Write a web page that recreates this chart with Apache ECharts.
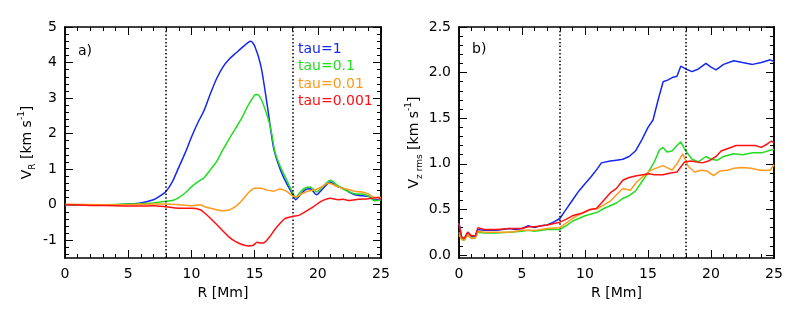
<!DOCTYPE html>
<html><head><meta charset="utf-8">
<script src="https://cdn.jsdelivr.net/npm/echarts@6/dist/echarts.min.js"></script>
<style>html,body{margin:0;padding:0;background:#fff}#c{width:786px;height:314px}</style>
</head><body><div id="c"></div>
<script>
// ---------- data ----------
const seriesNames = ['tau=1', 'tau=0.1', 'tau=0.01', 'tau=0.001'];
const seriesColors = ['#1428f0', '#22dd22', '#ff9a1a', '#ff1010'];
const panelLabels = ['a)', 'b)'];
const dividers = [8, 18];
const xTicks = [0, 5, 10, 15, 20, 25];
const yTicksA = [-1, 0, 1, 2, 3, 4, 5];
const yTicksB = [0, 0.5, 1.0, 1.5, 2.0, 2.5];

// panel a: V_R [km/s] vs R [Mm]
const vrTau1 = [[0,0],[2,-0.01],[4,0],[5,0.02],[6,0.05],[7,0.14],[7.5,0.24],[8,0.38],[8.5,0.65],[9,1.05],[9.5,1.45],[10,1.9],[10.5,2.3],[11,2.65],[11.5,3.12],[12,3.55],[12.5,3.88],[13,4.1],[13.5,4.26],[14,4.42],[14.5,4.57],[14.7,4.6],[15,4.47],[15.5,3.9],[16,2.8],[16.5,1.6],[17,1.02],[17.5,0.62],[18,0.3],[18.25,0.14],[18.6,0.27],[19,0.42],[19.4,0.45],[19.9,0.28],[20.4,0.45],[21,0.64],[21.5,0.52],[22,0.46],[22.5,0.35],[23,0.27],[23.5,0.25],[24,0.24],[24.5,0.13],[25,0.16]];
const vrTau01 = [[0,0],[3,0],[5,0.02],[6,0.03],[7,0.05],[8,0.1],[8.5,0.12],[9,0.2],[9.5,0.33],[10,0.5],[10.5,0.64],[11,0.76],[11.5,0.98],[12,1.22],[12.5,1.55],[13,1.86],[13.5,2.15],[14,2.45],[14.5,2.8],[15,3.08],[15.2,3.1],[15.5,2.98],[16,2.5],[16.3,2.1],[16.6,1.5],[17,1.1],[17.5,0.72],[18,0.35],[18.25,0.2],[18.6,0.35],[19,0.47],[19.4,0.5],[19.9,0.36],[20.4,0.52],[21,0.69],[21.5,0.56],[22,0.44],[22.5,0.36],[23,0.3],[23.5,0.3],[24,0.24],[24.5,0.11],[25,0.13]];
const vrTau001 = [[0,0.01],[3,0],[5,0],[7,0.02],[8,0.02],[9,0],[10,-0.03],[10.7,0],[11,-0.05],[11.5,-0.1],[12,-0.14],[12.5,-0.17],[13,-0.15],[13.5,-0.05],[14,0.12],[14.5,0.33],[15,0.46],[15.5,0.46],[16,0.41],[16.5,0.38],[17,0.44],[17.5,0.38],[18,0.25],[18.3,0.22],[18.7,0.3],[19.2,0.38],[19.8,0.42],[20.3,0.5],[20.8,0.6],[21.2,0.57],[21.6,0.5],[22,0.46],[22.5,0.42],[23,0.37],[23.5,0.36],[24,0.3],[24.5,0.2],[25,0.2]];
const vrTau0001 = [[0,0],[2,-0.02],[4,-0.03],[6,-0.04],[7,-0.03],[8,-0.06],[9,-0.1],[10,-0.1],[10.7,-0.14],[11,-0.22],[11.5,-0.38],[12,-0.56],[12.5,-0.74],[13,-0.92],[13.5,-1.04],[14,-1.12],[14.5,-1.16],[14.9,-1.14],[15.2,-1.06],[15.5,-1.08],[15.8,-1.06],[16.2,-0.9],[16.6,-0.7],[17,-0.53],[17.4,-0.39],[18,-0.33],[18.5,-0.3],[19,-0.2],[19.6,-0.07],[20.3,0.1],[21,0.18],[21.6,0.14],[22,0.15],[22.5,0.12],[23.2,0.15],[24,0.17],[24.8,0.2],[25,0.15]];

// panel b: Vz rms [km/s] vs R [Mm]
const vzTau1 = [[0,0.35],[0.2,0.2],[0.4,0.17],[0.7,0.25],[1,0.2],[1.3,0.21],[1.5,0.28],[2,0.27],[3,0.27],[4,0.29],[4.5,0.28],[5,0.29],[5.5,0.32],[6,0.3],[6.5,0.32],[7,0.33],[7.5,0.36],[8,0.4],[8.5,0.5],[9,0.6],[9.5,0.7],[10,0.78],[10.5,0.86],[11,0.95],[11.3,1.01],[12,1.03],[12.5,1.04],[13,1.05],[13.5,1.08],[14,1.14],[14.5,1.26],[15,1.4],[15.4,1.48],[15.8,1.7],[16.2,1.9],[16.6,1.92],[17,1.95],[17.3,1.96],[17.6,2.07],[18,2.04],[18.5,2.01],[19,2.04],[19.6,2.1],[20,2.06],[20.4,2.03],[21,2.09],[21.8,2.13],[22.5,2.11],[23.3,2.09],[24,2.11],[24.7,2.14],[25,2.12]];
const vzTau01 = [[0,0.25],[0.2,0.18],[0.4,0.16],[0.7,0.22],[1,0.18],[1.3,0.19],[1.5,0.25],[2,0.24],[3,0.24],[4,0.25],[5,0.26],[5.5,0.27],[6,0.26],[7,0.28],[8,0.28],[8.5,0.32],[9,0.37],[9.5,0.4],[10,0.43],[10.5,0.45],[11,0.47],[11.5,0.51],[12,0.54],[12.5,0.57],[13,0.62],[13.5,0.65],[14,0.7],[14.5,0.8],[15,0.9],[15.5,1.02],[15.9,1.15],[16.2,1.18],[16.5,1.13],[16.9,1.14],[17.3,1.2],[17.6,1.24],[18,1.14],[18.5,1.05],[19,1.02],[19.6,1.08],[20,1.05],[20.5,1.04],[21,1.08],[21.8,1.11],[22.5,1.1],[23.3,1.12],[24,1.12],[25,1.16]];
const vzTau001 = [[0,0.22],[0.2,0.17],[0.4,0.16],[0.7,0.22],[1,0.18],[1.3,0.19],[1.5,0.26],[2,0.25],[3,0.25],[4,0.25],[5,0.27],[6,0.27],[7,0.29],[8,0.3],[8.5,0.35],[9,0.4],[9.5,0.44],[10,0.47],[10.5,0.5],[11,0.51],[11.5,0.55],[12,0.59],[12.5,0.66],[13,0.73],[13.6,0.71],[14.1,0.8],[14.6,0.86],[15.1,0.92],[15.6,0.95],[16.2,0.98],[16.9,0.93],[17.3,1.0],[17.75,1.11],[18.2,0.97],[18.7,0.91],[19.2,0.93],[19.7,0.92],[20.2,0.87],[20.7,0.92],[21.3,0.93],[21.8,0.95],[22.5,0.96],[23.2,0.95],[23.9,0.93],[24.7,0.93],[25,0.99]];
const vzTau0001 = [[0,0.35],[0.2,0.2],[0.4,0.18],[0.7,0.25],[1,0.21],[1.3,0.21],[1.5,0.3],[2,0.28],[3,0.28],[4,0.29],[5,0.29],[5.5,0.31],[6,0.31],[7,0.33],[8,0.36],[8.5,0.39],[9,0.43],[9.8,0.46],[10.4,0.5],[10.9,0.51],[11.5,0.6],[12,0.68],[12.5,0.73],[13,0.82],[13.5,0.85],[14.1,0.87],[15.1,0.89],[15.5,0.88],[16.2,0.88],[16.8,0.9],[17.3,0.91],[17.9,1.02],[18.4,1.03],[19.3,1.01],[19.8,1.03],[20.4,1.08],[20.8,1.14],[21.4,1.17],[22,1.2],[22.5,1.2],[23,1.2],[23.5,1.2],[24,1.18],[24.5,1.22],[24.8,1.25],[25,1.23]];

const panelA = [vrTau1, vrTau01, vrTau001, vrTau0001];
const panelB = [vzTau1, vzTau01, vzTau001, vzTau0001];

// ---------- layout / style ----------
const FONT = 'DejaVu Sans';
const BLACK = '#000';
function minorList(min, max, step, majors) {
  const out = [];
  for (let v = min; v <= max + 1e-9; v += step) {
    const r = Math.round(v * 1000) / 1000;
    if (!majors.some(m => Math.abs(m - r) < 1e-6)) out.push(r);
  }
  return out;
}
const yMinorA = minorList(-1.4, 4.8, 0.2, yTicksA);
const yMinorB = minorList(0.1, 2.4, 0.1, yTicksB);

function xAxes(gi) {
  const base = {
    type: 'value', gridIndex: gi, min: xTicks[0], max: xTicks[xTicks.length - 1],
    interval: xTicks[1] - xTicks[0], splitLine: { show: false },
    axisLine: { show: true, onZero: false, lineStyle: { color: BLACK, width: 1.5 } },
    axisTick: { show: true, inside: true, length: 8, lineStyle: { color: BLACK, width: 1 } },
    minorTick: { show: true, splitNumber: 5, length: 4, lineStyle: { color: BLACK, width: 1 } }
  };
  return [
    Object.assign({}, base, {
      position: 'bottom',
      axisLabel: { show: true, fontFamily: FONT, fontSize: 14, color: BLACK, margin: 9 },
      name: 'R [Mm]', nameLocation: 'middle', nameGap: 27,
      nameTextStyle: { fontFamily: FONT, fontSize: 14, color: BLACK }
    }),
    Object.assign({}, base, { position: 'top', axisLabel: { show: false } })
  ];
}
function yAxes(gi, min, max, majors, minors, fmt, name, nameGap) {
  const common = {
    type: 'value', gridIndex: gi, min: min, max: max, splitLine: { show: false },
    axisLine: { show: true, onZero: false, lineStyle: { color: BLACK, width: 1.5 } }
  };
  const tick = (vals, len) => ({ show: true, inside: true, length: len, customValues: vals, lineStyle: { color: BLACK, width: 1 } });
  return [
    Object.assign({}, common, {
      position: 'left', axisTick: tick(majors, 8),
      axisLabel: { show: true, customValues: majors, formatter: fmt, fontFamily: FONT, fontSize: 14, color: BLACK, margin: 8 },
      name: name, nameLocation: 'middle', nameRotate: 90, nameGap: nameGap,
      nameTextStyle: {
        fontFamily: FONT, fontSize: 14, color: BLACK,
        rich: {
          a: { fontFamily: FONT, fontSize: 14, color: BLACK, lineHeight: 20 },
          s: { fontFamily: FONT, fontSize: 9, color: BLACK, lineHeight: 9, verticalAlign: 'bottom' },
          p: { fontFamily: FONT, fontSize: 9, color: BLACK, lineHeight: 9, verticalAlign: 'top' }
        }
      }
    }),
    Object.assign({}, common, { position: 'right', axisTick: tick(majors, 8), axisLabel: { show: false } }),
    Object.assign({}, common, { position: 'left', axisTick: tick(minors, 4), axisLabel: { show: false } }),
    Object.assign({}, common, { position: 'right', axisTick: tick(minors, 4), axisLabel: { show: false } })
  ];
}

const grids = [
  { left: 65, top: 27, width: 316, height: 231 },
  { left: 459, top: 27, width: 315, height: 231 }
];

const xAxis = xAxes(0).concat(xAxes(1));
const yAxis = yAxes(0, -1.5, 5, yTicksA, yMinorA, v => String(v),
  '{a|V}{s|R}{a| [km s}{p|-1}{a|]}', 28)
  .concat(yAxes(1, -0.033, 2.5, yTicksB, yMinorB, v => v.toFixed(1),
  '{a|V}{s|z rms}{a| [km s}{p|-1}{a|]}', 35));

function makeSeries(data, gi, smooth) {
  return data.map((d, i) => {
    const s = {
      type: 'line', name: seriesNames[i] + (gi ? ' b' : ' a'), data: d,
      xAxisIndex: gi * 2, yAxisIndex: gi * 4, showSymbol: false, symbol: 'none',
      smooth: smooth, animation: false, clip: true,
      lineStyle: { color: seriesColors[i], width: 1.5 }, z: 3 + i
    };
    if (i === 0) {
      s.markLine = {
        symbol: ['none', 'none'], silent: true, animation: false, label: { show: false },
        lineStyle: { color: BLACK, type: [1.5, 2.2], width: 1.5 },
        data: dividers.map(v => ({ xAxis: v }))
      };
    }
    return s;
  });
}

const series = makeSeries(panelA, 0, 0.25).concat(makeSeries(panelB, 1, false));

const graphic = [
  { type: 'text', x: 78, y: 51, style: { text: panelLabels[0], fill: BLACK, font: '14px ' + FONT, verticalAlign: 'middle' } },
  { type: 'text', x: 472, y: 49, style: { text: panelLabels[1], fill: BLACK, font: '14px ' + FONT, verticalAlign: 'middle' } }
].concat(seriesNames.map((n, i) => ({
  type: 'text', x: 298, y: 49 + i * 17.6,
  style: { text: n, fill: seriesColors[i], font: '14px ' + FONT, verticalAlign: 'middle' }
})));

const chart = echarts.init(document.getElementById('c'), null, { renderer: 'canvas' });
chart.setOption({
  animation: false,
  backgroundColor: '#fff',
  grid: grids,
  xAxis: xAxis,
  yAxis: yAxis,
  series: series,
  graphic: graphic
});
</script>
</body></html>
